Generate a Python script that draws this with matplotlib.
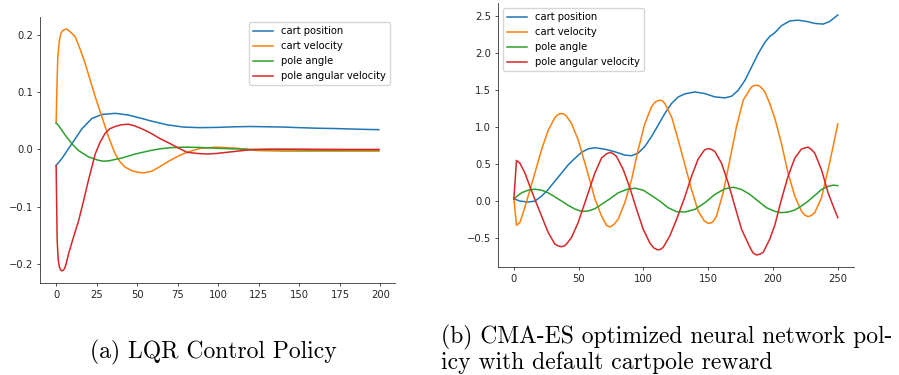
import matplotlib
matplotlib.use("Agg")
import matplotlib.pyplot as plt

# ---------------- LQR rollout (left panel) ----------------
lqr_pos_t = [0, 3.5, 9.7, 15.9, 22, 28.2, 36.4, 44.6, 52.9, 58, 68.3, 78.6, 88.9,
             100, 110, 119.8, 130, 140.4, 150, 161, 171, 181.5, 190, 199]
lqr_pos = [-0.028, -0.016, 0.010, 0.036, 0.054, 0.061, 0.063, 0.060, 0.054, 0.050,
           0.043, 0.039, 0.038, 0.0385, 0.0395, 0.040, 0.0395, 0.039, 0.038, 0.037,
           0.0365, 0.0357, 0.035, 0.0345]

lqr_vel_t = [0, 0.5, 1, 2, 3, 4, 5, 6, 7, 8, 9.5, 11.7, 14.8, 17.9, 21, 24.1, 28.2,
             32.3, 36.4, 39.5, 42.6, 46.5, 50.8, 54, 59, 64, 70.4, 75, 80.7, 88.9,
             99, 111.5, 123.9, 140, 160, 180, 199]
lqr_vel = [0.046, 0.110, 0.160, 0.190, 0.203, 0.207, 0.209, 0.210, 0.209, 0.207,
           0.203, 0.197, 0.175, 0.150, 0.121, 0.092, 0.057, 0.022, -0.008, -0.022,
           -0.031, -0.037, -0.040, -0.041, -0.038, -0.030, -0.019, -0.012, -0.005,
           0.002, 0.004, 0.002, -0.002, -0.003, -0.003, -0.003, -0.003]

lqr_ang_t = [0, 1.4, 5.6, 9.7, 13.8, 19.9, 26.1, 29, 32.3, 40.5, 48.8, 58, 64,
             70.4, 78.6, 88, 99, 110, 120, 140, 160, 180, 199]
lqr_ang = [0.046, 0.042, 0.025, 0.010, -0.002, -0.013, -0.019, -0.0205, -0.020,
           -0.015, -0.008, -0.002, 0.001, 0.003, 0.004, 0.0035, 0.002, 0.001, 0.0,
           -0.0005, -0.001, -0.001, -0.001]

lqr_angvel_t = [0, 0.3, 0.6, 1.0, 1.4, 2.0, 2.7, 3.5, 4.3, 5.2, 6.3, 7.6, 10.5,
                13.8, 16.9, 19.9, 24.1, 27, 30.2, 33, 36.4, 40, 44.6, 48.5, 52.9,
                58, 64, 70.4, 75, 80.7, 87, 93, 99, 105.4, 112, 119.8, 130, 140,
                150, 160, 180, 199]
lqr_angvel = [-0.028, -0.090, -0.154, -0.180, -0.195, -0.205, -0.210, -0.212,
              -0.211, -0.208, -0.198, -0.183, -0.155, -0.125, -0.090, -0.054,
              -0.008, 0.012, 0.028, 0.036, 0.040, 0.043, 0.044, 0.041, 0.036,
              0.029, 0.019, 0.010, 0.003, -0.005, -0.007, -0.008, -0.007, -0.005,
              -0.003, -0.0005, 0.0004, 0.0006, 0.0005, 0.0002, 0.0, 0.0]

# ---------------- CMA-ES policy rollout (right panel) ----------------
es_pos_t = [0, 4.6, 11, 16.2, 21.3, 26.5, 31.6, 36.8, 41.9, 47.1, 52.2, 57.4,
            62.5, 70.2, 77.9, 85.6, 90.8, 95.9, 101.1, 106.2, 111.4, 116.5, 121.7,
            126.8, 132, 139.7, 147.4, 155.1, 162.8, 168, 173.1, 178.3, 183.4,
            188.5, 193.7, 197.5, 201.4, 206.5, 213, 219.4, 225.8, 232.3, 238.7,
            243.8, 250]
es_pos = [0.032, 0.0, -0.013, 0.0, 0.067, 0.157, 0.27, 0.38, 0.49, 0.58, 0.66,
          0.708, 0.722, 0.703, 0.668, 0.623, 0.614, 0.65, 0.74, 0.874, 1.03, 1.187,
          1.322, 1.41, 1.452, 1.478, 1.456, 1.411, 1.398, 1.42, 1.5, 1.635, 1.814,
          1.994, 2.15, 2.23, 2.28, 2.375, 2.44, 2.45, 2.433, 2.406, 2.397, 2.433,
          2.52]

es_vel_t = [0, 2, 4.6, 7.2, 11, 16.2, 21.3, 26.5, 31.6, 33.8, 36.3, 38.5, 40.6,
            44.5, 49.6, 54.8, 59.9, 62.5, 67.6, 71.5, 74.1, 77, 80.5, 85.6, 90.8,
            95.9, 101.1, 106.2, 109, 112.1, 114.5, 116.5, 121.7, 126.8, 132, 137.1,
            142.2, 147, 149.9, 152.5, 154.5, 156.4, 161.5, 166.7, 171.8, 177,
            183.4, 185.5, 188.5, 190.5, 193.7, 197.5, 201.4, 206.5, 211.6, 216.8,
            221.9, 224.5, 227.1, 229.5, 232.2, 237.4, 242.5, 246.4, 250]
es_vel = [0.032, -0.327, -0.29, -0.157, 0.067, 0.38, 0.695, 0.96, 1.13, 1.17,
          1.187, 1.18, 1.15, 1.05, 0.83, 0.515, 0.2, 0.03, -0.2, -0.33, -0.35,
          -0.32, -0.246, -0.022, 0.29, 0.695, 1.05, 1.277, 1.34, 1.367, 1.36,
          1.322, 1.14, 0.83, 0.49, 0.157, -0.134, -0.27, -0.3, -0.295, -0.26,
          -0.2, 0.112, 0.56, 1.008, 1.367, 1.546, 1.565, 1.568, 1.545, 1.48, 1.32,
          1.12, 0.78, 0.38, 0.067, -0.134, -0.19, -0.21, -0.195, -0.157, 0.045,
          0.426, 0.74, 1.044]

es_ang_t = [0, 5.9, 11, 16.2, 21.3, 26.5, 31.6, 36.8, 41.9, 47.1, 52.2, 57.4,
            62.5, 67.6, 74.1, 80.5, 86.9, 93.4, 99.8, 106.2, 112.6, 119.1, 125.5,
            132, 139.7, 147.4, 155.1, 162.8, 169.3, 175.7, 182.2, 188.5, 195,
            201.4, 206.5, 211.6, 216.8, 221.9, 227.1, 232.2, 237.4, 242.5, 246.4,
            250]
es_ang = [0.032, 0.112, 0.148, 0.161, 0.148, 0.112, 0.058, 0.0, -0.058, -0.108,
          -0.139, -0.134, -0.103, -0.045, 0.031, 0.112, 0.157, 0.175, 0.148, 0.076,
          0.0, -0.09, -0.143, -0.148, -0.112, -0.022, 0.09, 0.166, 0.188, 0.157,
          0.09, 0.0, -0.09, -0.139, -0.157, -0.148, -0.121, -0.067, 0.0, 0.076,
          0.157, 0.2, 0.215, 0.21]

es_angvel_t = [0, 2, 4.6, 8.5, 12.3, 16.2, 21.3, 26.5, 31.6, 34, 36.3, 38.5, 40.6,
               44.5, 49.6, 54.8, 59.9, 62.5, 67.6, 71.5, 74.1, 76.5, 79.2, 84.4,
               89.5, 94.7, 99.8, 105, 108, 110.9, 113, 115.2, 120.4, 125.5, 132,
               137.1, 142.2, 147, 149.9, 152.5, 155.1, 160.2, 165.4, 170.5, 175.7,
               182.2, 184.5, 187.2, 189.8, 192.4, 197.5, 201.4, 206.5, 211.6,
               216.8, 221.9, 224.5, 227.1, 229.5, 232.2, 237.4, 242.5, 246.4, 250]
es_angvel = [0.032, 0.55, 0.515, 0.38, 0.2, 0.022, -0.2, -0.426, -0.582, -0.605,
             -0.618, -0.61, -0.582, -0.493, -0.29, -0.022, 0.246, 0.38, 0.582,
             0.64, 0.659, 0.645, 0.605, 0.426, 0.18, -0.112, -0.381, -0.569,
             -0.635, -0.659, -0.655, -0.627, -0.47, -0.25, 0.06, 0.336, 0.569,
             0.69, 0.712, 0.70, 0.672, 0.515, 0.246, -0.067, -0.381, -0.627, -0.70,
             -0.73, -0.72, -0.694, -0.515, -0.325, 0.022, 0.336, 0.582, 0.703,
             0.72, 0.73, 0.70, 0.65, 0.426, 0.112, -0.067, -0.224]

labels = ["cart position", "cart velocity", "pole angle", "pole angular velocity"]
colors = ["#1f77b4", "#ff7f0e", "#2ca02c", "#d62728"]

captions = ["(a) LQR Control Policy",
            "(b) CMA-ES optimized neural network pol-",
            "icy with default cartpole reward"]

fs = 7.2
plt.rcParams.update({
    "font.family": "DejaVu Sans",
    "font.size": fs,
    "axes.linewidth": 0.6,
    "xtick.major.width": 0.6,
    "ytick.major.width": 0.6,
    "xtick.major.size": 2.5,
    "ytick.major.size": 2.5,
    "xtick.major.pad": 2.5,
    "ytick.major.pad": 2.5,
    "axes.edgecolor": "#333333",
    "xtick.color": "#333333",
    "ytick.color": "#333333",
    "xtick.labelcolor": "#262626",
    "ytick.labelcolor": "#262626",
})

fig = plt.figure(figsize=(8.99, 3.75), dpi=100)
ax1 = fig.add_axes([40 / 899, 1 - 283 / 375, 355 / 899, 266 / 375])
ax2 = fig.add_axes([497.7 / 899, 1 - 267 / 375, 356.3 / 899, 264 / 375])

lw = 1.1
left_series = [(lqr_pos_t, lqr_pos), (lqr_vel_t, lqr_vel),
               (lqr_ang_t, lqr_ang), (lqr_angvel_t, lqr_angvel)]
right_series = [(es_pos_t, es_pos), (es_vel_t, es_vel),
                (es_ang_t, es_ang), (es_angvel_t, es_angvel)]

for (t, y), lab, c in zip(left_series, labels, colors):
    ax1.plot(t, y, color=c, lw=lw, label=lab, solid_joinstyle="round")
for (t, y), lab, c in zip(right_series, labels, colors):
    ax2.plot(t, y, color=c, lw=lw, label=lab, solid_joinstyle="round")

ax1.set_xticks([0, 25, 50, 75, 100, 125, 150, 175, 200])
ax1.set_yticks([-0.2, -0.1, 0.0, 0.1, 0.2])
ax2.set_xticks([0, 50, 100, 150, 200, 250])
ax2.set_yticks([-0.5, 0.0, 0.5, 1.0, 1.5, 2.0, 2.5])

for ax in (ax1, ax2):
    ax.spines["top"].set_visible(False)
    ax.spines["right"].set_visible(False)

leg_kw = dict(fontsize=fs, handlelength=2.0, borderpad=0.4, labelspacing=0.5,
              framealpha=0.8, edgecolor="#cccccc")
ax1.legend(loc="upper right", **leg_kw)
ax2.legend(loc="upper left", **leg_kw)

cap_font = ["cmr10", "DejaVu Serif"]
fig.text(213 / 899, 1 - 352 / 375, captions[0], family=cap_font, fontsize=17,
         ha="center", va="center")
fig.text(441 / 899, 1 - 343 / 375, captions[1], family=cap_font, fontsize=17,
         ha="left", va="baseline")
fig.text(441 / 899, 1 - 369 / 375, captions[2], family=cap_font, fontsize=17,
         ha="left", va="baseline")

fig.savefig("out.png", dpi=100)
